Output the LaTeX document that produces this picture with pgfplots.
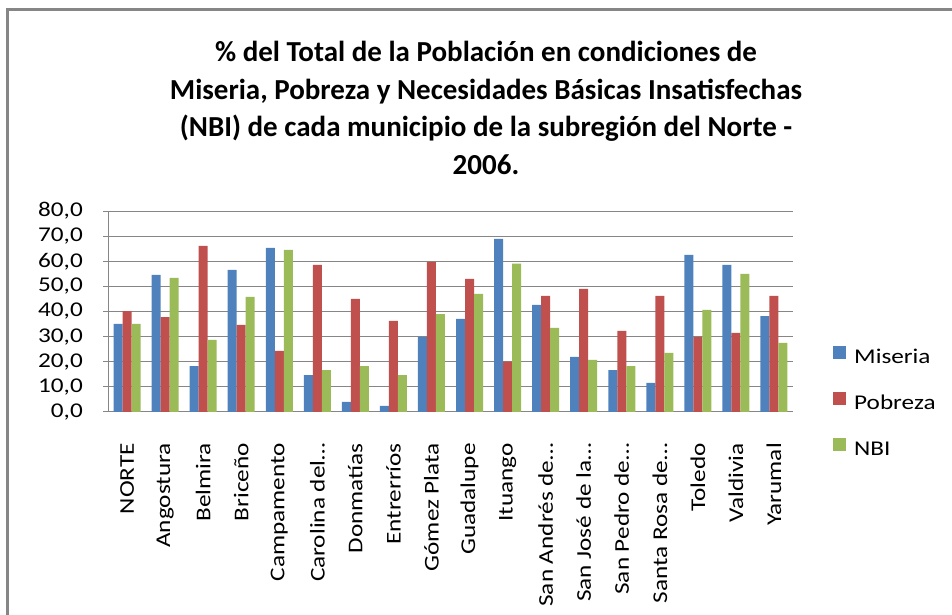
\documentclass[border=0pt]{standalone}
\usepackage{fontspec}
\setmainfont{Carlito}[FakeStretch=1.2]
\newfontfamily\titlefont{Carlito}
\usepackage{pgfplots}
\usepackage{pgfplotstable}
\pgfplotsset{compat=1.18}
\definecolor{cM}{HTML}{4F81BD}
\definecolor{cP}{HTML}{C0504D}
\definecolor{cN}{HTML}{9BBB59}
\definecolor{gridgray}{HTML}{868686}
\pgfplotstableread{
x M P N
0 35.1 40.2 35.1
1 54.6 37.8 53.4
2 18.3 66.1 28.7
3 56.6 34.7 45.8
4 65.3 24.3 64.5
5 14.7 58.6 16.7
6 4.0 45.0 18.3
7 2.4 36.3 14.7
8 29.9 59.8 39.0
9 37.1 53.0 47.0
10 68.9 20.1 59.1
11 42.6 46.2 33.5
12 21.9 49.0 20.7
13 16.7 32.3 18.3
14 11.6 46.2 23.5
15 62.5 29.9 40.6
16 58.6 31.5 55.0
17 38.2 46.2 27.5
}\data
\begin{document}
\begin{tikzpicture}
\useasboundingbox (0pt,0pt) rectangle (952pt,615pt);
\draw[gridgray, line width=3pt] (7.5pt,0pt) -- (7.5pt,605pt) -- (952pt,605pt);
\node[font=\titlefont\bfseries\fontsize{29}{37.5}\selectfont, align=center] at (486pt,507pt)
{\% del Total de la Población en condiciones de\\ Miseria, Pobreza y Necesidades Básicas Insatisfechas\\ (NBI) de cada municipio de la subregión del Norte -\\ 2006.};
\begin{axis}[
  at={(108pt,203pt)}, anchor=south west,
  scale only axis, width=685pt, height=201pt,
  ybar=0pt, bar width=9pt,
  xmin=-0.5, xmax=17.5, ymin=0, ymax=80,
  ytick={0,10,...,80},
  xtick={0,...,17},
  xticklabels={NORTE,Angostura,Belmira,Briceño,Campamento,Carolina del…\hspace{-20pt},Donmatías,Entrerríos,Gómez Plata,Guadalupe,Ituango,San Andrés de…\hspace{-20pt},San José de la…\hspace{-20pt},San Pedro de…\hspace{-20pt},Santa Rosa de…\hspace{-20pt},Toledo,Valdivia,Yarumal},
  axis x line*=bottom, axis y line*=left,
  axis line style={gridgray, line width=1pt, -},
  ymajorgrids, grid style={gridgray, line width=1pt},
  xtick style={draw=none},
  ytick style={gridgray, line width=1pt},
  tick align=outside, major tick length=5pt,
  /pgf/number format/fixed, /pgf/number format/fixed zerofill,
  /pgf/number format/precision=1, /pgf/number format/use comma,
  /pgf/number format/assume math mode=true,
  yticklabel style={font=\fontsize{21}{21}\selectfont, inner sep=0pt, xshift=-20pt},
  xticklabel style={font=\fontsize{21}{21}\selectfont, rotate=90, anchor=east, inner sep=0pt},
  xticklabel shift=26pt,
  legend style={draw=none, fill=none, at={(1.0584,0.045)}, anchor=west,
    font=\fontsize{21}{21}\selectfont, row sep=25pt, column sep=8pt, inner sep=0pt,
    nodes={inner sep=0pt, text height=14pt, text depth=4pt}},
  legend cell align=left,
  legend image code/.code={\fill[#1] (0pt,-1pt) rectangle (13pt,12pt);},
]
\addplot[fill=cM, draw=none] table[x=x,y=M] {\data};
\addplot[fill=cP, draw=none] table[x=x,y=P] {\data};
\addplot[fill=cN, draw=none] table[x=x,y=N] {\data};
\legend{Miseria,Pobreza,NBI}
\end{axis}
\end{tikzpicture}
\end{document}
